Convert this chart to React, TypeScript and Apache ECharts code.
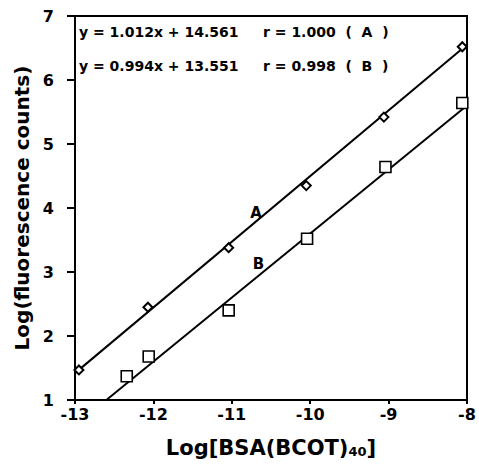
import React, { useEffect, useRef } from "react";
import * as echarts from "echarts";

const xTicks = [-13, -12, -11, -10, -9, -8];
const yTicks = [1, 2, 3, 4, 5, 6, 7];

const seriesAx = [-12.95, -12.07, -11.04, -10.05, -9.06, -8.06];
const seriesAy = [1.47, 2.45, 3.38, 4.35, 5.42, 6.52];
const seriesBx = [-12.34, -12.06, -11.04, -10.04, -9.04, -8.06];
const seriesBy = [1.37, 1.68, 2.4, 3.52, 4.64, 5.64];

const fitAx = [-13, -8.05];
const fitAy = [1.42, 6.5];
const fitBx = [-12.6, -8.0];
const fitBy = [1.0, 5.6];

const eqLeft = ["y = 1.012x + 14.561", "y = 0.994x + 13.551"];
const eqRight = ["r = 1.000  (  A  )", "r = 0.998  (  B  )"];

const curveLabels = [
  { name: "A", x: -10.69, y: 3.92 },
  { name: "B", x: -10.66, y: 3.13 },
];

const FONT = "DejaVu Sans, Verdana, sans-serif";

export default function App() {
  const ref = useRef<HTMLDivElement>(null);
  useEffect(() => {
    if (!ref.current) return;
    const chart = echarts.init(ref.current, null, { renderer: "svg" });
    const zip = (xs: number[], ys: number[]) => xs.map((x, i) => [x, ys[i]]);
    const graphics: any[] = [];
    eqLeft.forEach((t, i) => {
      graphics.push({
        type: "text",
        left: 79,
        top: 25 + i * 34,
        style: { text: t, fill: "#000", font: `bold 14px ${FONT}` },
      });
      graphics.push({
        type: "text",
        left: 263,
        top: 25 + i * 34,
        style: { text: eqRight[i], fill: "#000", font: `bold 14px ${FONT}` },
      });
    });
    chart.setOption({
      animation: false,
      backgroundColor: "#fff",
      grid: {
        left: 75,
        right: 12,
        top: 16,
        bottom: 64,
        show: true,
        borderColor: "#000",
        borderWidth: 2,
        backgroundColor: "transparent",
      },
      xAxis: {
        type: "value",
        min: xTicks[0],
        max: xTicks[xTicks.length - 1],
        interval: 1,
        name: "{a|Log[BSA(BCOT)}{s|40}{a|]}",
        nameLocation: "middle",
        nameGap: 37,
        nameTextStyle: {
          rich: {
            a: { fontFamily: FONT, fontWeight: "bold", fontSize: 21, color: "#000" },
            s: { fontFamily: FONT, fontWeight: "bold", fontSize: 13, color: "#000", padding: [7, 0, 0, 0] },
          },
        },
        axisLine: { show: true, lineStyle: { color: "#000", width: 2 } },
        axisTick: { show: true, inside: false, length: 4, lineStyle: { color: "#000", width: 2 } },
        axisLabel: {
          color: "#000",
          fontFamily: FONT,
          fontWeight: "bold",
          fontSize: 16,
          margin: 6,
        },
        splitLine: { show: false },
      },
      yAxis: {
        type: "value",
        min: yTicks[0],
        max: yTicks[yTicks.length - 1],
        interval: 1,
        name: "Log(fluorescence counts)",
        nameLocation: "middle",
        nameGap: 42,
        nameTextStyle: { color: "#000", fontFamily: FONT, fontWeight: "bold", fontSize: 20 },
        axisLine: { show: true, lineStyle: { color: "#000", width: 2 } },
        axisTick: { show: true, inside: false, length: 8, lineStyle: { color: "#000", width: 2 } },
        axisLabel: {
          color: "#000",
          fontFamily: FONT,
          fontWeight: "bold",
          fontSize: 16,
          margin: 21,
        },
        splitLine: { show: false },
      },
      series: [
        {
          type: "line",
          data: zip(fitAx, fitAy),
          symbol: "none",
          lineStyle: { color: "#000", width: 2 },
          z: 2,
        },
        {
          type: "line",
          data: zip(fitBx, fitBy),
          symbol: "none",
          lineStyle: { color: "#000", width: 2 },
          z: 2,
        },
        {
          type: "scatter",
          data: zip(seriesAx, seriesAy),
          symbol: "diamond",
          symbolSize: 9,
          itemStyle: { color: "#fff", borderColor: "#000", borderWidth: 2, opacity: 1 },
          z: 3,
        },
        {
          type: "scatter",
          data: zip(seriesBx, seriesBy),
          symbol: "rect",
          symbolSize: 11,
          itemStyle: { color: "#fff", borderColor: "#000", borderWidth: 1.6, opacity: 1 },
          z: 3,
        },
        {
          type: "scatter",
          data: curveLabels.map((c) => ({ value: [c.x, c.y], name: c.name })),
          symbolSize: 1,
          itemStyle: { color: "transparent" },
          label: {
            show: true,
            position: "inside",
            formatter: (p: any) => p.name,
            color: "#000",
            opacity: 1,
            fontFamily: FONT,
            fontWeight: "bold",
            fontSize: 15,
          },
          z: 4,
        },
      ],
      graphic: graphics,
    });
    return () => chart.dispose();
  }, []);
  return <div ref={ref} style={{ width: 479, height: 464, position: "absolute", left: 0, top: 0 }} />;
}
